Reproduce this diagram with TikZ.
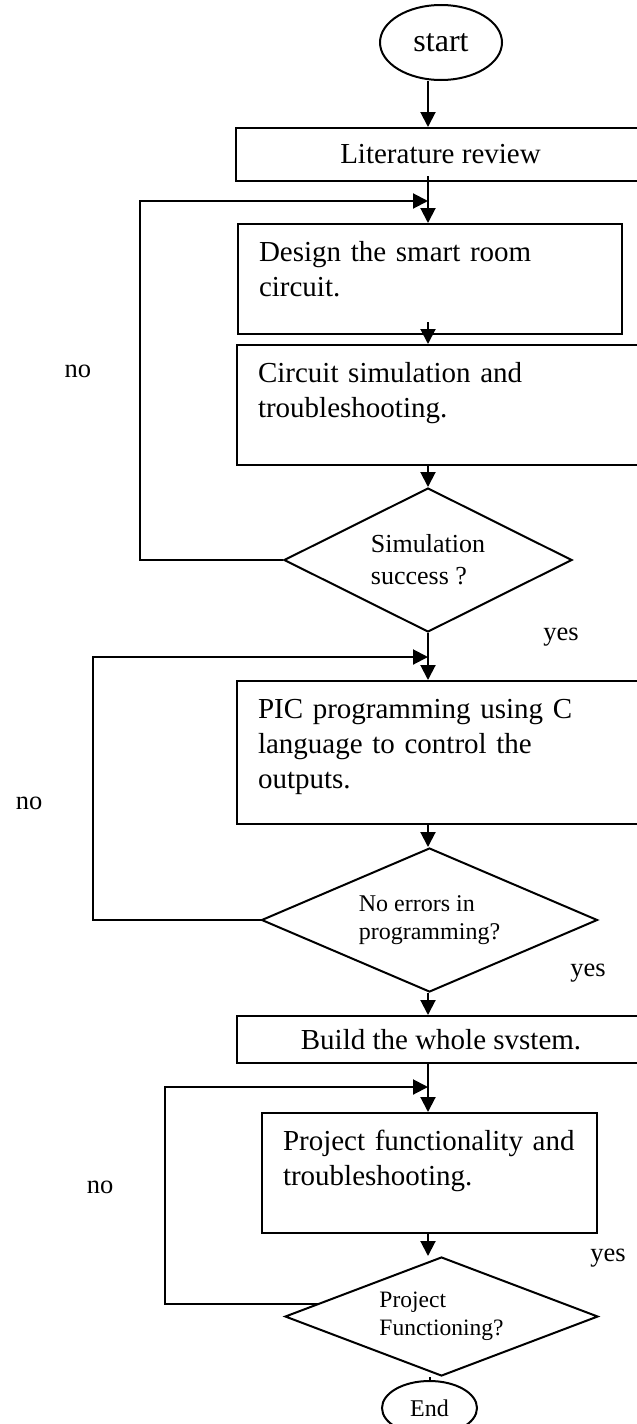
\documentclass[tikz,border=0pt]{standalone}
\usepackage{fontspec}
\setmainfont{Liberation Serif}
\usepackage{tikz}
\usetikzlibrary{shapes,arrows,arrows.meta,positioning}
\tikzset{%
	termnode/.style={ellipse, draw, line width=1pt, inner sep=0pt},
	boxnode/.style={rectangle, draw, line width=1pt, inner sep=0pt, font=\fontsize{14.5}{17.5}\selectfont},
	stepnode/.style={boxnode, anchor=north west, align=left, inner xsep=10.5pt, text height=18.5pt},
	decnode/.style={diamond, draw, line width=1pt, inner sep=0pt, align=left},
	pt/.style={draw, line width=1pt, ->, >={Triangle[length=7.5pt,width=7.5pt]}},
	lbl/.style={font=\fontsize{13.25}{16}\selectfont, inner sep=0pt}
}

\begin{document}
\begin{tikzpicture}[x=0.5pt, y=-0.5pt]
			\useasboundingbox (0,0) rectangle (637,1424);
			\clip (0,0) rectangle (637,1424);
			\coordinate (spine) at (428,0);

			\node[termnode, minimum width=61pt, minimum height=37.5pt, font=\fontsize{16}{19}\selectfont] (start) at (441,42.5) {start};
			\node[boxnode, minimum width=204.5pt, minimum height=26.5pt] (lit) at (440.5,154.5) {Literature review};
			\node[stepnode, text width=171pt, text depth=36.5pt] (design) at (237,223) {Design the smart room\\circuit.};
			\node[stepnode, text width=183.5pt, text depth=41.5pt] (circuit) at (236,344) {Circuit simulation and\\troubleshooting.};
			\node[decnode, aspect=2, minimum width=144pt, minimum height=72pt, font=\fontsize{13}{16}\selectfont] (sim) at (428,560) {Simulation\\success ?};
			\node[stepnode, text width=183.5pt, text depth=53pt] (pic) at (236,680) {PIC programming using C\\language to control the\\outputs.};
			\node[decnode, aspect=2.33, minimum width=168pt, minimum height=72pt, font=\fontsize{12}{14}\selectfont] (err) at (429.5,920) {No errors in\\programming?};
			\node[boxnode, minimum width=204pt, minimum height=23.5pt] (build) at (441,1039.5) {Build the whole svstem.};
			\node[stepnode, text width=146.5pt, text depth=41.5pt] (proj) at (261,1112) {Project functionality and\\troubleshooting.};
			\node[decnode, aspect=2.63, minimum width=156.5pt, minimum height=59.5pt, font=\fontsize{11.75}{14}\selectfont] (func) at (441.5,1316.5) {Project\\Functioning?};
			\node[termnode, minimum width=47.5pt, minimum height=27pt, font=\fontsize{12}{14}\selectfont] (end) at (429.5,1408) {End};

			\node[lbl] (no1) at (78,371) {no};
			\node[lbl] (no2) at (29,803) {no};
			\node[lbl] (no3) at (100,1187) {no};
			\node[lbl] (yes1) at (561,637) {yes};
			\node[lbl] (yes2) at (588,973) {yes};
			\node[lbl] (yes3) at (608,1258) {yes};

			\draw[pt] (start.south -| spine) -- (lit.north -| spine);
			\draw[pt] ([yshift=3pt]lit.south -| spine) -- (design.north -| spine);
			\draw[pt] ([yshift=6.5pt]design.south -| spine) -- (circuit.north -| spine);
			\draw[pt] (circuit.south -| spine) -- (sim.north);
			\draw[pt] (sim.south) -- (pic.north -| spine);
			\draw[pt] (pic.south -| spine) -- (err.north -| spine);
			\draw[pt] (err.south -| spine) -- (build.north -| spine);
			\draw[pt] (build.south -| spine) -- (proj.north -| spine);
			\draw[pt] (proj.south -| spine) -- (func.north -| spine);
			\draw[line width=1pt] (func.south -| end) -- (end.north);

			\coordinate (back1) at (140,201);
			\coordinate (back2) at (93,657);
			\coordinate (back3) at (165,1087);
			\draw[pt] (sim.west) -| (back1) -- (back1 -| spine);
			\draw[pt] (err.west) -| (back2) -- (back2 -| spine);
			\draw[pt] (func.174) -| (back3) -- (back3 -| spine);
\end{tikzpicture}
\end{document}
